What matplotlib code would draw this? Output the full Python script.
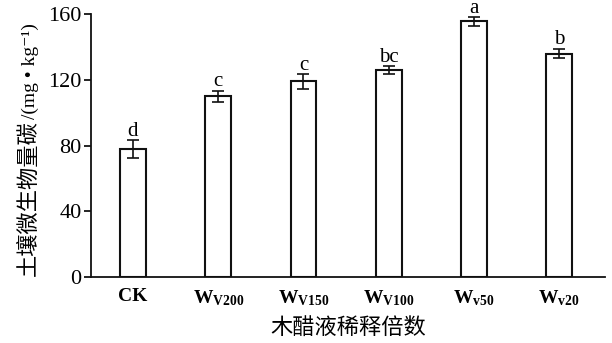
import matplotlib
matplotlib.use('Agg')
import matplotlib.pyplot as plt
import numpy as np

# data
groups = ['CK', r'$\mathbf{W}_{\mathbf{V200}}$', r'$\mathbf{W}_{\mathbf{V150}}$',
          r'$\mathbf{W}_{\mathbf{V100}}$', r'$\mathbf{W}_{\mathbf{v50}}$', r'$\mathbf{W}_{\mathbf{v20}}$']
mbc = [78, 110, 119, 126, 155.5, 136]
err = [5.5, 3.5, 4.5, 2.5, 2.5, 3.0]
letters = ['d', 'c', 'c', 'bc', 'a', 'b']
yticks = [0, 40, 80, 120, 160]

fonts = ['Liberation Serif', 'Noto Sans CJK SC', 'DejaVu Serif']
plt.rcParams['font.family'] = fonts
plt.rcParams['mathtext.fontset'] = 'custom'
plt.rcParams['mathtext.rm'] = 'Liberation Serif'
plt.rcParams['mathtext.bf'] = 'Liberation Serif:bold'
plt.rcParams['mathtext.it'] = 'Liberation Serif:italic'

W, H = 612, 343
fig = plt.figure(figsize=(W / 100, H / 100), dpi=100)
ax = fig.add_axes([0.149, 0.192, 0.84, 0.767])

x = np.arange(len(groups))
ax.bar(x, mbc, width=0.3, color='white', edgecolor='#111111', linewidth=1.5, zorder=2)
ax.errorbar(x, mbc, yerr=err, fmt='none', ecolor='#111111', elinewidth=1.2,
            capsize=4, capthick=1.2, zorder=3)
for xi, v, e, t in zip(x, mbc, err, letters):
    ax.annotate(t, (xi, v + e), xytext=(0, 3), textcoords='offset points',
                ha='center', va='baseline', fontsize=15, family='Liberation Serif')

ax.set_xlim(-0.49, 5.54)
ax.set_ylim(0, 160)
ax.set_yticks(yticks)
ax.set_xticks(x)
ax.set_xticklabels(groups)
for lab in ax.get_xticklabels():
    lab.set_fontweight('bold')
    lab.set_fontsize(14)
ax.tick_params(axis='x', length=0, pad=8)
ax.tick_params(axis='y', direction='out', length=5, width=1.2, labelsize=16, pad=2)
for s in ['top', 'right']:
    ax.spines[s].set_visible(False)
for s in ['left', 'bottom']:
    ax.spines[s].set_linewidth(1.3)
    ax.spines[s].set_color('#111111')

# y label in two parts: Chinese bigger, unit smaller, both on one baseline
base_x = 35 / W
t1 = fig.text(base_x, 1 - 276 / H, '土壤微生物量碳', rotation=90, rotation_mode='anchor',
              ha='left', va='baseline', fontsize=16, family=fonts)
fig.canvas.draw()
top = t1.get_window_extent().y1 / fig.bbox.height
fig.text(base_x, top + 1 / H, '/(mg • kg\u207b\u00b9)', rotation=90, rotation_mode='anchor',
         ha='left', va='baseline', fontsize=14, family=fonts)
ax.set_xlabel('木醋液稀释倍数', fontsize=16, family=['Noto Sans CJK SC'], labelpad=6)

fig.savefig('out.png', dpi=100)
plt.close()
